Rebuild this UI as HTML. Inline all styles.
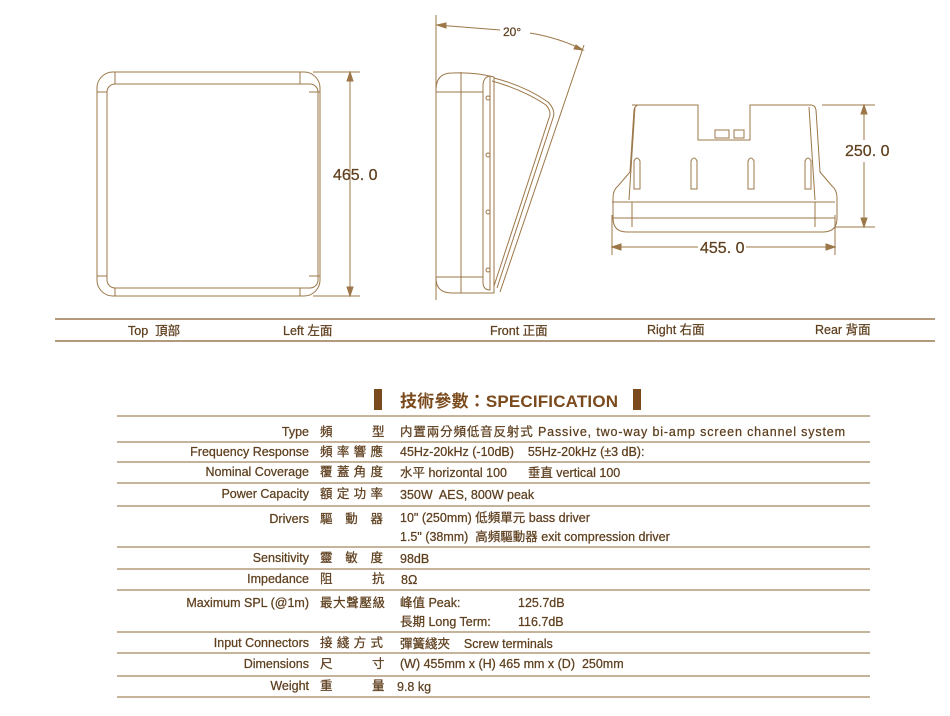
<!DOCTYPE html>
<html><head><meta charset="utf-8"><style>
body{margin:0;background:#fff;}
svg{display:block}
text{font-family:"Liberation Sans","Noto Sans CJK TC",sans-serif;fill:#5e3f1e;white-space:pre;stroke:#5e3f1e;stroke-width:0.25}
</style></head><body>
<svg width="950" height="716" viewBox="0 0 950 716" xmlns="http://www.w3.org/2000/svg" xml:space="preserve">
<g fill="none" stroke="#9c7748" stroke-width="1">
<rect x="97" y="72" width="223" height="224" rx="16"/>
<rect x="107" y="84" width="211" height="204" rx="8"/>
<line x1="115" y1="72" x2="115" y2="84"/><line x1="300" y1="72" x2="300" y2="84"/>
<line x1="115" y1="288" x2="115" y2="296"/><line x1="300" y1="288" x2="300" y2="296"/>
<line x1="97" y1="92" x2="107" y2="92"/><line x1="97" y1="276" x2="107" y2="276"/>
<line x1="309" y1="92" x2="320" y2="92"/><line x1="309" y1="276" x2="320" y2="276"/>
<line x1="313" y1="72" x2="360" y2="72"/><line x1="313" y1="296" x2="360" y2="296"/>
<line x1="350" y1="72" x2="350" y2="296"/>
<path d="M350 72 l-3 9 h6z M350 296 l-3 -9 h6z" fill="#9c7748"/>
<line x1="436" y1="15" x2="436" y2="300"/>
<path d="M436 90 Q436 73 452 73 Q475 72 494 77 L494 293 L452 293 Q436 293 436 278 Z"/>
<line x1="461" y1="72" x2="461" y2="293"/>
<line x1="436" y1="92" x2="483" y2="92"/><line x1="436" y1="277" x2="483" y2="277"/>
<path d="M483 86 Q483 77 490 76 L490 290 Q483 290 483 282 Z"/>
<path d="M494 78 Q525 86 548 102 Q556 110 553 118 L497 288"/>
<path d="M492 81 Q524 90 546 105 Q552 112 549 118 L494 286"/>
<circle cx="488" cy="98" r="2"/><circle cx="488" cy="155" r="2"/><circle cx="488" cy="212" r="2"/><circle cx="488" cy="270" r="2"/>
<line x1="584" y1="45" x2="500" y2="292"/>
<path d="M437 25 L500 30 M530 33 Q560 38 583 50"/>
<path d="M437 25 l9 -2 v5z M583 50 l-9 -1 l2 -4z" fill="#9c7748"/>
<path d="M632 105 h66 v35 h52 v-35 h61 q4 0 5 5 l4 62 l12 14 q5 4 5 12 v20 q0 14 -14 14 h-196 q-14 0 -14 -14 v-20 q0 -8 5 -12 l12 -14 l4 -62 q1 -5 5 -5z"/>
<line x1="635" y1="107" x2="629" y2="200"/><line x1="809" y1="107" x2="815" y2="200"/>
<line x1="612" y1="202" x2="835" y2="202"/><line x1="612" y1="218" x2="835" y2="218"/>
<line x1="632" y1="202" x2="632" y2="227"/><line x1="815" y1="202" x2="815" y2="227"/>
<path d="M634 189 v-28 q3 -6 6 0 v28z M691 189 v-28 q3 -6 6 0 v28z M748 189 v-28 q3 -6 6 0 v28z M805 189 v-28 q3 -6 6 0 v28z"/>
<rect x="715" y="130" width="14" height="8"/><rect x="734" y="130" width="10" height="8"/>
<line x1="822" y1="105" x2="875" y2="105"/><line x1="835" y1="227" x2="875" y2="227"/>
<line x1="864" y1="105" x2="864" y2="140"/><line x1="864" y1="162" x2="864" y2="227"/>
<path d="M864 105 l-3 9 h6z M864 227 l-3 -9 h6z" fill="#9c7748"/>
<line x1="612" y1="215" x2="612" y2="255"/><line x1="835" y1="215" x2="835" y2="255"/>
<line x1="612" y1="247" x2="698" y2="247"/><line x1="746" y1="247" x2="835" y2="247"/>
<path d="M612 247 l9 -3 v6z M835 247 l-9 -3 v6z" fill="#9c7748"/>
</g>
<g stroke="#b39a7c" stroke-width="2">
<line x1="55" y1="319" x2="935" y2="319"/><line x1="55" y1="341" x2="935" y2="341"/>
</g>
<g font-size="16">
<text x="333" y="180">465. 0</text>
<text x="845" y="156">250. 0</text>
<text x="700" y="253">455. 0</text>
</g>
<text x="503" y="36" font-size="12">20°</text>
<g font-size="12.5">
<text x="128" y="335">Top  頂部</text>
<text x="283" y="335">Left 左面</text>
<text x="490" y="335">Front 正面</text>
<text x="647" y="334">Right 右面</text>
<text x="815" y="334">Rear 背面</text>
</g>
<rect x="374" y="389" width="8" height="21" fill="#7a4a1c"/>
<rect x="633" y="389" width="8" height="21" fill="#7a4a1c"/>
<text x="400" y="407" font-size="17" font-weight="bold" textLength="218" style="fill:#7a4a1c;stroke:none">技術參數：SPECIFICATION</text>
<g stroke="#b39a7c" stroke-width="1.5">
<line x1="117" y1="416" x2="870" y2="416"/>
<line x1="117" y1="442" x2="870" y2="442"/>
<line x1="117" y1="462" x2="870" y2="462"/>
<line x1="117" y1="483" x2="870" y2="483"/>
<line x1="117" y1="506" x2="870" y2="506"/>
<line x1="117" y1="547" x2="870" y2="547"/>
<line x1="117" y1="569" x2="870" y2="569"/>
<line x1="117" y1="590" x2="870" y2="590"/>
<line x1="117" y1="632" x2="870" y2="632"/>
<line x1="117" y1="653" x2="870" y2="653"/>
<line x1="117" y1="676" x2="870" y2="676"/>
<line x1="117" y1="697" x2="870" y2="697"/>
</g>
<g font-size="12.5">
<g text-anchor="end">
<text x="309" y="436">Type</text>
<text x="309" y="456">Frequency Response</text>
<text x="309" y="476">Nominal Coverage</text>
<text x="309" y="498">Power Capacity</text>
<text x="309" y="523">Drivers</text>
<text x="309" y="562">Sensitivity</text>
<text x="309" y="583">Impedance</text>
<text x="309" y="607">Maximum SPL (@1m)</text>
<text x="309" y="647">Input Connectors</text>
<text x="309" y="668">Dimensions</text>
<text x="309" y="690">Weight</text>
</g>
<text x="320" y="436">頻</text><text x="372" y="436">型</text>
<text x="320" y="456" textLength="63" lengthAdjust="spacing">頻率響應</text>
<text x="320" y="476" textLength="63" lengthAdjust="spacing">覆蓋角度</text>
<text x="320" y="498" textLength="63" lengthAdjust="spacing">額定功率</text>
<text x="320" y="523" textLength="63" lengthAdjust="spacing">驅動器</text>
<text x="320" y="562" textLength="63" lengthAdjust="spacing">靈敏度</text>
<text x="320" y="583">阻</text><text x="372" y="583">抗</text>
<text x="320" y="607" textLength="65" lengthAdjust="spacing">最大聲壓級</text>
<text x="320" y="647" textLength="63" lengthAdjust="spacing">接綫方式</text>
<text x="320" y="668">尺</text><text x="372" y="668">寸</text>
<text x="320" y="690">重</text><text x="372" y="690">量</text>
<text x="400" y="436" textLength="445">内置兩分頻低音反射式 Passive, two-way bi-amp screen channel system</text>
<text x="400" y="456">45Hz-20kHz (-10dB)    55Hz-20kHz (±3 dB):</text>
<text x="400" y="477">水平 horizontal 100      垂直 vertical 100</text>
<text x="400" y="499">350W  AES, 800W peak</text>
<text x="400" y="522">10" (250mm) 低頻單元 bass driver</text>
<text x="400" y="541">1.5" (38mm)  高頻驅動器 exit compression driver</text>
<text x="400" y="563">98dB</text>
<text x="401" y="584">8Ω</text>
<text x="400" y="607">峰值 Peak:</text><text x="518" y="607">125.7dB</text>
<text x="400" y="626">長期 Long Term:</text><text x="518" y="626">116.7dB</text>
<text x="400" y="648">彈簧綫夾    Screw terminals</text>
<text x="400" y="668">(W) 455mm x (H) 465 mm x (D)  250mm</text>
<text x="397" y="691">9.8 kg</text>
</g>
</svg>
</body></html>
